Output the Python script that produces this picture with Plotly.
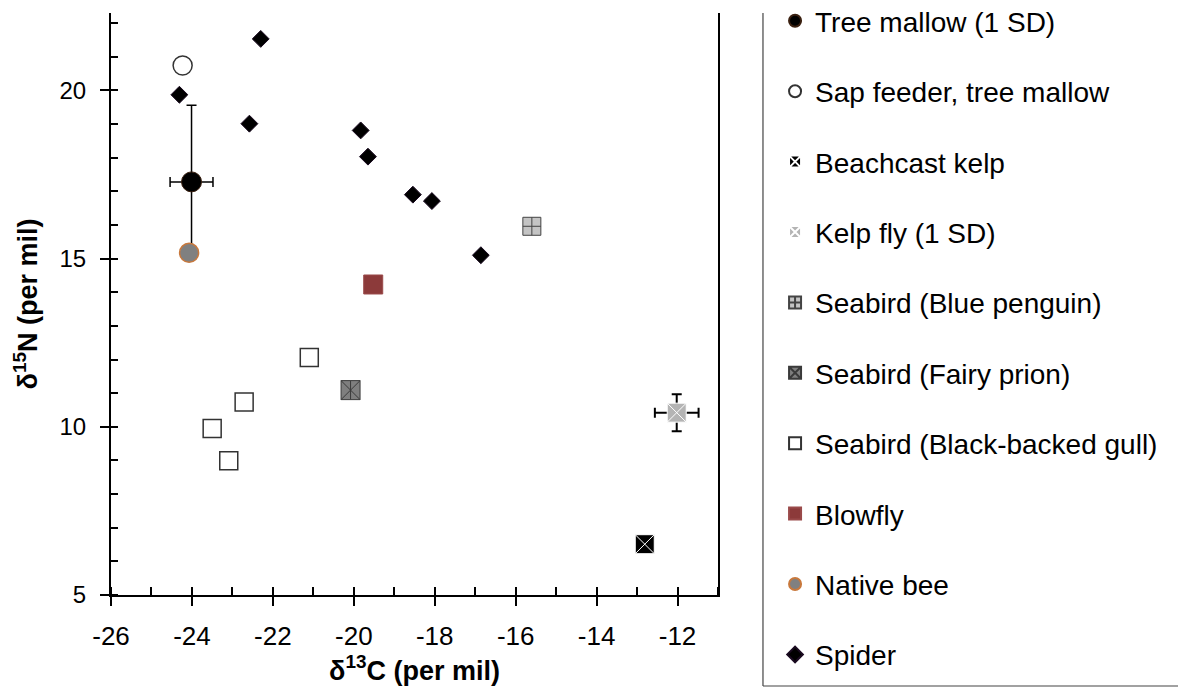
import plotly.graph_objects as go

FONT = "Liberation Sans, Arial, sans-serif"

# ---- data ----
tree_x = [-24.01]; tree_y = [17.28]; tree_ex = [0.53]; tree_ey = [2.28]
sap_x = [-24.23]; sap_y = [20.74]
kelp_x = [-12.81]; kelp_y = [6.51]
fly_x = [-12.02]; fly_y = [10.42]; fly_ex = [0.54]; fly_ey = [0.55]
penguin_x = [-15.60]; penguin_y = [15.96]
prion_x = [-20.08]; prion_y = [11.09]
gull_x = [-21.10, -22.71, -23.50, -23.09]
gull_y = [12.06, 10.74, 9.95, 8.99]
blowfly_x = [-19.52]; blowfly_y = [14.23]
bee_x = [-24.07]; bee_y = [15.17]
spider_x = [-24.31, -22.30, -22.58, -19.83, -19.65, -18.54, -18.07, -16.86]
spider_y = [19.87, 21.53, 19.01, 18.81, 18.03, 16.90, 16.71, 15.10]

x_tickvals = [-26, -24, -22, -20, -18, -16, -14, -12]
x_ticktext = ["-26", "-24", "-22", "-20", "-18", "-16", "-14", "-12"]
y_tickvals = [5, 10, 15, 20]
y_ticktext = ["5", "10", "15", "20"]

fig = go.Figure()

def add(name, x, y, marker, group, showlegend=True, **kw):
    fig.add_trace(go.Scatter(x=x, y=y, mode="markers", name=name, marker=marker,
                             legendgroup=group, showlegend=showlegend, **kw))

add("Tree mallow (1 SD)", tree_x, tree_y,
    dict(symbol="circle", size=20, color="black", line=dict(color="#3a2010", width=1)), "g1",
    error_x=dict(type="data", array=tree_ex, color="black", thickness=1.5, width=5),
    error_y=dict(type="data", array=tree_ey, color="black", thickness=1.5, width=5))
add("Sap feeder, tree mallow", sap_x, sap_y,
    dict(symbol="circle", size=19, color="white", line=dict(color="#333333", width=1.5)), "g2")
add("Beachcast kelp", kelp_x, kelp_y,
    dict(symbol="square-x", size=19, color="black", line=dict(color="white", width=1)), "g3")
add("Kelp fly (1 SD)", fly_x, fly_y,
    dict(symbol="square-x", size=19, color="#b4b4b4", line=dict(color="white", width=1)), "g4",
    error_x=dict(type="data", array=fly_ex, color="black", thickness=2, width=5),
    error_y=dict(type="data", array=fly_ey, color="black", thickness=2, width=5))
add("Seabird (Blue penguin)", penguin_x, penguin_y,
    dict(symbol="square-cross", size=18, color="#c4c4c4", line=dict(color="#444444", width=1)), "g5")
add("Seabird (Fairy prion)", prion_x, prion_y,
    dict(symbol="square-x", size=19, color="#7f7f7f", line=dict(color="#3a3a3a", width=1)), "g6")
add("Seabird (Fairy prion) line", prion_x, prion_y,
    dict(symbol="line-ns", size=13, line=dict(color="#3a3a3a", width=1)), "g6", showlegend=False)
add("Seabird (Black-backed gull)", gull_x, gull_y,
    dict(symbol="square", size=18, color="white", line=dict(color="#333333", width=1.5)), "g7")
add("Blowfly", blowfly_x, blowfly_y,
    dict(symbol="square", size=19, color="#8c3a3a", line=dict(color="#9a4a4a", width=1)), "g8")
add("Native bee", bee_x, bee_y,
    dict(symbol="circle", size=19, color="#808080", line=dict(color="#c8783c", width=1.5)), "g9")
add("Spider", spider_x, spider_y,
    dict(symbol="diamond", size=13, color="black", line=dict(color="#1a0a20", width=1)), "g10")

axis_common = dict(showgrid=False, zeroline=False, showline=True, linecolor="black",
                   linewidth=2, tickcolor="black", tickwidth=1.5, automargin=True)

fig.update_layout(
    width=1178, height=691,
    margin=dict(l=111, r=460, t=13, b=96, autoexpand=False),
    paper_bgcolor="white", plot_bgcolor="white",
    font=dict(family=FONT, size=25, color="black"),
    xaxis=dict(range=[-26, -11], tickmode="array", tickvals=x_tickvals, ticktext=x_ticktext,
               ticks="outside", ticklen=9, ticklabelstandoff=8,
               tickfont=dict(family=FONT, size=26, color="black"),
               minor=dict(ticks="inside", dtick=1, tick0=-26, ticklen=8, tickwidth=1.5,
                          tickcolor="black", showgrid=False),
               title=dict(text="<b>δ<sup>13</sup>C (per mil)</b>",
                          font=dict(family=FONT, size=27, color="black"), standoff=8),
               **axis_common),
    xaxis2=dict(range=[-26, -11], overlaying="x", anchor="y", side="bottom",
                tickmode="array", tickvals=x_tickvals, ticks="inside", ticklen=9,
                tickwidth=1.5, tickcolor="black", showticklabels=False,
                showline=False, showgrid=False, zeroline=False),
    yaxis=dict(range=[5, 22.3], tickmode="array", tickvals=y_tickvals, ticktext=y_ticktext,
               ticks="outside", ticklen=9, ticklabelstandoff=9, mirror=True,
               tickfont=dict(family=FONT, size=24, color="black"),
               minor=dict(ticks="inside", dtick=1, tick0=5, ticklen=7, tickwidth=1.5,
                          tickcolor="black", showgrid=False),
               title=dict(text="<b>δ<sup>15</sup>N (per mil)</b>",
                          font=dict(family=FONT, size=27, color="black"), standoff=14),
               **axis_common),
    legend=dict(x=1.094, xanchor="left", y=1.029, yanchor="top",
                traceorder="grouped", tracegroupgap=31, itemwidth=30,
                itemsizing="constant", borderwidth=0, bgcolor="rgba(0,0,0,0)",
                maxheight=700,
                font=dict(family=FONT, size=28, color="black")),
    shapes=[
        dict(type="line", xref="paper", yref="paper", x0=1.0741, x1=1.0741,
             y0=-0.1564, y1=1.0, line=dict(color="#444444", width=1.2), layer="below"),
        dict(type="line", xref="paper", yref="paper", x0=1.0741, x1=1.8,
             y0=-0.1564, y1=-0.1564, line=dict(color="#444444", width=1.2), layer="below"),
    ],
    showlegend=True,
)

fig.write_html("out.html", config={"displayModeBar": False},
               post_script="document.body.style.margin='0px';")
